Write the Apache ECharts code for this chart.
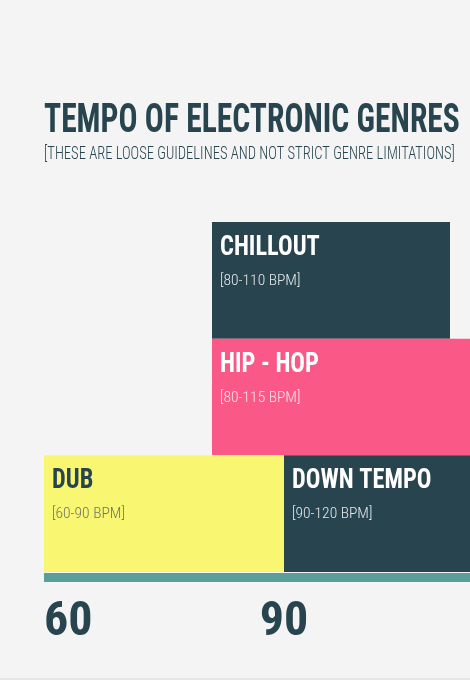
<!DOCTYPE html>
<html><head><meta charset="utf-8">
<script src="https://cdn.jsdelivr.net/npm/echarts@6/dist/echarts.min.js"></script>
<style>html,body{margin:0;padding:0;background:#f4f4f4;}#c{width:470px;height:680px;}</style>
</head><body><div id="c"></div>
<script>
const genres = ['CHILLOUT', 'HIP - HOP', 'DUB', 'DOWN TEMPO'];
const rangeLabels = ['[80-110 BPM]', '[80-115 BPM]', '[60-90 BPM]', '[90-120 BPM]'];
const lowBpm = [81, 81, 60, 90];
const highBpm = [110.75, 115, 90, 120];
const rowIndex = [2, 1, 0, 0];
const rowCategories = ['low', 'mid', 'high'];

const fills = ['#27444f', '#fa5886', '#f9f672', '#27444f'];
const nameColors = ['#ffffff', '#ffffff', '#27444f', '#ffffff'];
const subColors = ['#e4e8ea', '#fde3ea', '#6f7663', '#e4e8ea'];

const FAM = '"Roboto Condensed", "DejaVu Sans Condensed", sans-serif';
const titleText = 'TEMPO OF ELECTRONIC GENRES';
const subText = '[THESE ARE LOOSE GUIDELINES AND NOT STRICT GENRE LIMITATIONS]';
const titleFont = 'bold 41px ' + FAM;
const subFont = '300 19px ' + FAM;
const nameFont = 'bold 28px ' + FAM;
const rangeFont = '300 15.5px ' + FAM;

const chart = echarts.init(document.getElementById('c'));
const data = genres.map((g, i) => [rowIndex[i], lowBpm[i], highBpm[i], i]);
chart.setOption({
  backgroundColor: '#f4f4f4',
  animation: false,
  grid: { left: 44, right: 0, top: 222, bottom: 108 },
  xAxis: {
    type: 'value', min: 60, max: 113.25, interval: 30,
    offset: 5,
    axisLine: { show: true, lineStyle: { color: '#5b9e99', width: 9, cap: 'butt' } },
    axisTick: { show: false },
    splitLine: { show: false },
    axisLabel: {
      margin: 22, color: '#27444f', fontSize: 48, fontWeight: 'bold', fontFamily: FAM,
      alignMinLabel: 'left', showMaxLabel: false, verticalAlign: 'top'
    }
  },
  yAxis: { type: 'category', data: rowCategories, show: false },
  graphic: [
    { type: 'text', x: 44, y: 101, scaleX: 0.77, style: { text: titleText, font: titleFont, fill: '#27444f' } },
    { type: 'text', x: 44, y: 145, scaleX: 0.767, style: { text: subText, font: subFont, fill: '#27444f' } },
    { type: 'rect', x: 0, y: 678, shape: { width: 470, height: 2 }, style: { fill: '#e6e6e6' } }
  ],
  series: [{
    type: 'custom',
    data: data,
    encode: { x: [1, 2], y: 0 },
    clip: false,
    renderItem: function (params, api) {
      const i = api.value(3);
      const row = api.value(0);
      const p0 = api.coord([api.value(1), row]);
      const p1 = api.coord([api.value(2), row]);
      const h = api.size([0, 1])[1];
      const cs = params.coordSys;
      const shape = echarts.graphic.clipRectByRect(
        { x: p0[0], y: p0[1] - h / 2, width: p1[0] - p0[0], height: h },
        { x: cs.x, y: cs.y, width: cs.width + 10, height: cs.height }
      );
      const top = p0[1] - h / 2;
      return {
        type: 'group',
        children: [
          { type: 'rect', shape: shape, style: { fill: fills[i] } },
          { type: 'text', x: p0[0] + 8, y: top + 12, scaleX: 0.87,
            style: { text: genres[i], font: nameFont, fill: nameColors[i],
              shadowColor: 'rgba(0,0,0,0.35)', shadowBlur: 4, shadowOffsetY: 2 } },
          { type: 'text', x: p0[0] + 8, y: top + 51,
            style: { text: rangeLabels[i], font: rangeFont, fill: subColors[i],
              shadowColor: 'rgba(0,0,0,0.2)', shadowBlur: 3, shadowOffsetY: 1 } }
        ]
      };
    }
  }]
});
</script></body></html>
